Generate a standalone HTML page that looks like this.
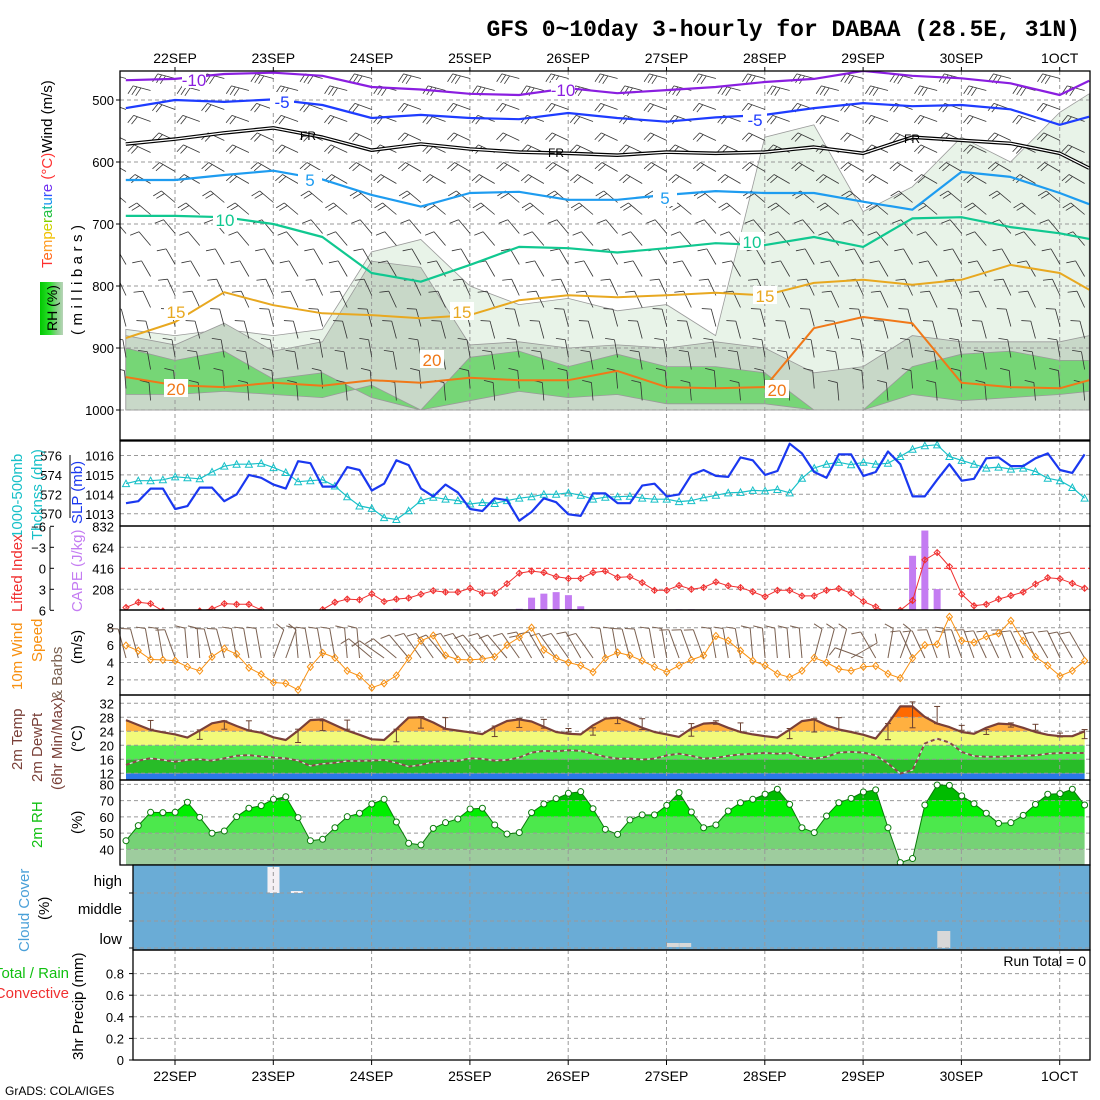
<!DOCTYPE html>
<html><head><meta charset="utf-8"><style>
html,body{margin:0;padding:0;background:#fff;width:1100px;height:1100px;overflow:hidden}
svg{display:block}
text{font-family:"Liberation Sans",sans-serif}
</style></head><body>
<svg id="c" width="1100" height="1100" viewBox="0 0 1100 1100" xmlns="http://www.w3.org/2000/svg">
<defs>
<clipPath id="clipUp"><rect x="120" y="71" width="970" height="369"/></clipPath>
<clipPath id="clipLI"><rect x="120" y="526" width="970" height="84"/></clipPath>
<linearGradient id="rhbox" x1="0" x2="1" y1="0" y2="0"><stop offset="0" stop-color="#00c800"/><stop offset="0.45" stop-color="#30e030"/><stop offset="0.7" stop-color="#7fd07f"/><stop offset="1" stop-color="#b8d4b8"/></linearGradient>
</defs>
</svg>
<script>
// ---------- data ----------
const dayLabels=['22SEP','23SEP','24SEP','25SEP','26SEP','27SEP','28SEP','29SEP','30SEP','1OCT'];
const slp=[1013.55,1013.65,1014.3,1014.3,1013.25,1013.4,1014.35,1014.35,1013.65,1014,1015,1014.85,1014.5,1014.3,1015.7,1015.6,1014.4,1014.4,1015.4,1015.25,1014.2,1014.55,1015.75,1015.5,1014.3,1013.9,1014.5,1014.1,1013.25,1013.15,1013.8,1013.7,1012.65,1013.1,1013.8,1013.6,1012.98,1012.9,1014.05,1014.05,1013.55,1013.55,1014.45,1014.55,1013.9,1014,1015,1015.25,1014.95,1014.9,1015.9,1015.75,1015,1015.2,1016.6,1016.1,1015.15,1014.85,1016.05,1016.05,1014.95,1015.15,1016.2,1015.55,1013.9,1013.9,1014.75,1015.55,1014.7,1014.8,1015.85,1015.9,1015.45,1015.45,1015.85,1016.1,1015.25,1015.1,1016.05];
const thick=[573.1,573.4,573.4,573.5,573.8,573.7,573.6,574.3,574.9,575.1,575.1,575.2,574.75,574.25,573.3,573.4,573.5,572.85,571.75,570.8,570.55,569.6,569.4,570.3,571.35,571.7,571.5,571.35,571,571.15,571.05,571.35,571.6,571.75,572,572,572.15,571.9,571.5,571.7,571.75,571.8,571.6,571.5,571.5,571.25,571.35,571.65,571.9,572.15,572.2,572.4,572.35,572.5,572.15,573.65,574.7,575.1,575.3,575.05,575.3,575.1,575.2,575.9,576.65,577,577.1,575.9,575.5,575.1,574.7,574.8,574.6,574.7,574.35,573.65,573.4,572.7,571.6];
const li=[5.6,4.85,5.05,6.1,7,7,6.1,5.8,5.05,5.15,5.15,5.95,7,7,7,7,5.9,4.85,4.4,4.5,3.65,4.75,4.4,4.25,3.7,3.2,3.4,3.4,2.85,3.55,3.55,2.2,0.7,0.4,0.6,1.2,1.45,1.45,0.6,0.4,1.3,1.2,2.05,3.15,3.15,2.45,3,2.75,1.95,2.5,2.75,3.35,4.05,3.15,3.15,3.95,3.95,3.15,2.9,3.55,4.75,5.5,6.4,6,4.6,-1.2,-2.25,-0.25,3.7,5.35,5.15,4.4,3.9,3.4,2.25,1.35,1.5,2.15,2.85];
const cape=[0,0,0,0,0,0,0,0,5,0,0,0,0,0,0,0,0,0,0,0,0,10,15,10,0,0,0,0,0,0,0,0,15,125,165,180,150,40,0,0,0,0,0,0,0,10,10,0,0,0,0,0,0,0,0,0,0,0,0,0,0,0,0,0,540,790,210,5,0,0,0,0,0,0,0,0,0,0,0];
const wspd=[5.95,5.35,4.35,4.3,4.2,3.5,3.05,4.65,5.6,4.95,3.4,2.65,1.7,1.6,0.85,3.5,5.1,4.55,3.05,2.45,1.1,1.6,2.5,4.5,6.5,7.1,4.8,4.35,4.3,4.4,4.65,6,6.9,8,5.45,4.5,4.0,3.65,2.9,4.5,5.15,4.8,4.2,3.5,2.9,3.65,4.3,4.8,7.05,6.5,5.35,4.2,3.65,2.7,2.3,3.05,4.55,4,3.25,3.05,3.5,3.6,2.7,2.2,4.5,6,6.1,9.25,6.5,6.3,7,7.35,8.8,6.5,4.65,3.65,2.45,3.05,4.2];
const wdir=[345,345,350,350,340,355,355,345,345,350,350,350,20,20,355,350,350,350,355,355,310,305,310,320,325,325,320,325,325,320,325,320,325,330,330,325,325,330,325,350,350,345,345,350,350,340,340,340,350,350,350,355,355,355,355,355,15,15,15,60,290,330,10,20,335,335,340,350,340,340,335,335,340,335,335,330,335,330,330];
const temp=[27.2,25.8,24.4,23.7,23.1,22.2,24.2,26.3,26.95,25.5,24.2,23.6,22.3,21.5,24.2,27.2,27.4,25.8,24.2,23,21.7,21.5,24.6,27.9,28,26.5,24.7,24.2,23.7,23.2,25.3,26.95,27.4,26.8,25.3,23.8,23.3,23.1,25.7,27.6,27.9,26.5,25,23.8,23.1,22.4,24.8,26.2,26.4,25,23.8,23.1,22.6,22.2,24.5,26.9,27.4,25.7,24.5,23.8,23,21.9,26.2,31.1,31.1,28.1,26.2,25.2,23.8,23.3,25,26.2,26,25,23.8,23,22.6,22.6,24];
const dewp=[14.4,15.6,16.3,15.8,15.3,15.8,16,15.6,16.3,17,17.2,16.8,16.5,16.3,15.6,14.1,14.7,15,15.5,15.5,15.6,15.8,15,13.9,14.4,15.3,15.5,15.5,16.3,16.1,15.6,15.8,16.5,17.9,18.4,18.3,18.6,18.4,17.6,16.7,16.2,16.2,15.9,16.2,17.1,17.6,17,16.2,16.4,17,17.4,17.6,17.8,17.6,17.8,16.7,16.2,16.7,17.9,18.1,17.9,17.1,14.8,11.9,12.9,20.5,21.9,20.8,18.1,16.9,16.7,16.7,16.9,17,17.1,17.6,17.8,17.8,17.8];
const barIdx=[2,6,8,10,14,16,18,22,24,26,30,32,34,36,38,40,42,46,48,50,54,56,58,62,64,66,68,70,72,74,76,78];
const tmax=[27.1,24.4,27,27,24.6,27,27.2,24.6,28.2,27.9,25.5,27.7,27.4,24.8,25,27.9,27.6,26.2,27,26.4,24.8,27.6,27.9,26.2,32.4,31.1,25.7,24.5,26.4,26,23.5,24.5];
const tmin=[24.6,21.7,24.6,24.4,20.8,24.2,24.6,21,24.9,24.6,22.5,25.1,24.9,23.8,22.9,26.2,24.5,22.6,26,23.8,21.9,23.8,24.5,21.6,25,26.2,24.3,23.1,25.2,24.3,22.4,21.9];
const rh=[45.3,54.6,62.8,62.6,62.8,69,59.7,49.9,51.3,60.1,65.3,66.9,70.8,72.4,59.5,45.3,46.2,53.3,60.1,62.2,67.9,70.8,56.8,43.7,42.7,52.9,56.4,58.7,64.8,65.3,55,49.4,50.3,62.6,67.9,71.2,74.5,75.5,65,52.3,49.2,58.1,61.2,61.2,67.1,74.9,63,53.3,55,63.6,68.7,70.8,73.9,77,67.7,53.3,50.3,60.5,68.7,71.4,75.3,76.6,53.3,31.8,34.3,67.3,79.6,79.4,72.9,68.1,62.2,56,56.4,60.9,67.7,73.9,74.3,77,67.3];
const cloudGapIdx=[12,13.9,44.5,45.5,66.5];
const cloudGapLevel=['high','highline','lowline','lowline','low'];
// upper-air contours (pressure mb vs time in days from 22SEP00Z)
const ctime=[-0.5,0,0.5,1,1.5,2,2.5,3,3.5,4,4.5,5,5.5,6,6.5,7,7.5,8,8.5,9,9.3];
const cM10=[468,466,458,456,461,479,483,490,492,481,489,484,479,471,466,453,461,465,473,492,469];
const cM5=[513,500,503,499,508,529,524,529,531,521,529,535,528,524,513,505,510,508,515,540,527];
const cFR=[571,563,553,545,560,581,571,579,584,586,589,584,586,584,576,586,560,565,570,586,610];
const cP5=[629,629,621,614,628,653,672,650,648,661,661,653,647,650,650,664,677,616,624,650,668];
const cP10=[687,687,689,700,721,779,793,766,737,739,746,739,731,734,721,737,691,689,705,715,724];
const cP15=[884,858,810,831,844,847,852,847,823,815,818,815,811,815,795,790,798,790,766,779,806];
const cP20=[947,960,963,956,961,952,956,948,952,952,937,963,965,963,868,850,860,956,963,965,952];
const rhLight=[870,880,870,880,870,745,725,800,830,820,840,830,880,560,540,680,640,560,600,520,490];
const rhGray=[880,895,860,905,890,760,770,895,890,900,895,900,890,900,940,930,880,890,890,890,880];
const rhGreenTop=[900,920,905,950,940,980,1000,915,905,930,910,930,930,940,1000,1000,930,910,905,920,920];
const rhGreenBot=[975,975,970,975,980,960,1000,985,970,980,975,990,990,990,1000,1000,975,985,980,975,970];
const upLevels=[475,525,575,625,675,725,775,825,875,925,975];
const upDir=[285,290,295,300,310,320,330,335,345,350,355];
const upSpd=[15,12,11,10,8,7,6,6,6,7,6];

// ---------- scales ----------
const X=i=>126+i*12.29;
const XD=d=>175+d*98.3;
const pY=p=>100+(p-500)*0.62;
const ySLP=p=>494.4-(p-1014)*19.5;
const yTh=t=>494.3-(t-572)*9.7;
const yLI=v=>568.3+v*7;
const yCape=c=>610.3-c*(84/832);
const yW=v=>697.3-v*8.7;
const yT=t=>773.3-(t-12)*3.5;
const yR=r=>849.3-(r-40)*1.623;
const yP=v=>1060-v*108;

const svg=document.getElementById('c');
const NS='http://www.w3.org/2000/svg';
function mk(tag,attrs,name,parent){
  const el=document.createElementNS(NS,tag);
  for(const k in attrs) el.setAttribute(k,attrs[k]);
  
  
  (parent||svg).appendChild(el);
  return el;
}
function txt(x,y,s,name,o){
  o=o||{};
  const a={x:x,y:y,'font-size':o.fs||13,fill:o.fill||'#000','text-anchor':o.anchor||'start'};
  if(o.rot) a.transform='rotate(-90 '+x+' '+y+')';
  if(o.ls) a['letter-spacing']=o.ls;
  if(o.ff) a.style='font-family:'+o.ff;
  if(o.fw) a['font-weight']=o.fw;
  const t=mk('text',a,name,o.parent);
  t.textContent=s;
  return t;
}
function ln(x1,y1,x2,y2,st,w,name,dash,parent){
  const a={x1:x1,y1:y1,x2:x2,y2:y2,stroke:st,'stroke-width':w||1};
  if(dash) a['stroke-dasharray']=dash;
  return mk('line',a,name,parent);
}
function poly(pts,st,w,name,parent,dash){
  const a={points:pts.map(p=>p[0].toFixed(1)+','+p[1].toFixed(1)).join(' '),fill:'none',stroke:st,'stroke-width':w,'stroke-linejoin':'round'};
  if(dash) a['stroke-dasharray']=dash;
  return mk('polyline',a,name,parent);
}
function pathArea(top,bot){
  let d='M'+top.map(p=>p[0].toFixed(1)+','+p[1].toFixed(1)).join('L');
  d+='L'+bot.slice().reverse().map(p=>p[0].toFixed(1)+','+p[1].toFixed(1)).join('L')+'Z';
  return d;
}
const N=slp.length;
const idx=[...Array(N).keys()];

// ---------- title ----------
txt(1080,36,'GFS 0~10day 3-hourly for DABAA (28.5E, 31N)','chart-title',{fs:23,anchor:'end',ff:'"Liberation Mono",monospace',fw:'bold'});
dayLabels.forEach((s,k)=>{
  txt(XD(k),63,s,'top-date-label',{fs:14,anchor:'middle'});
  txt(XD(k),1081,s,'bottom-date-label',{fs:14,anchor:'middle'});
});
txt(5,1095,'GrADS: COLA/IGES','grads-credit',{fs:12});

// ---------- upper air panel ----------
const gUp=mk('g',{'clip-path':'url(#clipUp)'},'upper-air-plot');
const ctX=ctime.map(d=>XD(d));
function areaUp(topArr,botArr,fill,name){
  const top=topArr.map((p,k)=>[ctX[k],pY(p)]);
  const bot=botArr.map((p,k)=>[ctX[k],pY(p)]);
  mk('path',{d:pathArea(top,bot),fill:fill,stroke:'#9a9a9a','stroke-width':0.8},name,gUp);
}
const p1000=ctime.map(()=>1000);
areaUp(rhLight,p1000,'#e8f3e8','rh-shade-light');
areaUp(rhGray,p1000,'#c8d8c8','rh-shade-gray');
areaUp(rhGreenTop,rhGreenBot,'#76d676','rh-shade-green');
[500,600,700,800,900,1000].forEach(p=>{
  ln(120,pY(p),1090,pY(p),'#999',1,'upper-grid-h','4,3',gUp);
  txt(114,pY(p)+5,String(p),'pressure-tick-label',{fs:13,anchor:'end'});
  ln(116,pY(p),120,pY(p),'#000',1,'pressure-tick');
});
dayLabels.forEach((s,k)=>{
  ln(XD(k),71,XD(k),440,'#999',1,'upper-grid-v','4,3',gUp);
  ln(XD(k),67,XD(k),71,'#000',1,'top-date-tick');
});
function barb(x,y,dir,spd,len,col,name,parent,w){
  const r=dir*Math.PI/180;
  const ux=Math.sin(r),uy=-Math.cos(r);
  const ex=x+ux*len,ey=y+uy*len;
  ln(x,y,ex,ey,col,w||1,name,null,parent);
  let n=Math.max(1,Math.round(spd/5));
  for(let k=0;k<Math.min(n,3);k++){
    const bx=ex-ux*k*4,by=ey-uy*k*4;
    const px=Math.cos(r),py=Math.sin(r);
    const fx=bx+(-px)*9+ux*3, fy=by+(-py)*9+uy*3;
    ln(bx,by,fx,fy,col,w||1,name+'-feather',null,parent);
  }
}
for(let i=0;i<N;i+=2){
  upLevels.forEach((p,k)=>{
    const off=(i%4===0)?0:12;
    barb(X(i),pY(p)+off-6,upDir[k],upSpd[k],18,'#333','upper-wind-barb',gUp,0.8);
  });
}
function contour(arr,col,w,name){
  return poly(arr.map((p,k)=>[ctX[k],pY(p)]),col,w,name,gUp);
}
contour(cM10,'#8a1ee0',2.2,'temp-contour-minus10');
contour(cM5,'#1e3cff',2.2,'temp-contour-minus5');
contour(cFR,'#000',3.6,'freezing-level-outer');
contour(cFR,'#fff',1.2,'freezing-level-inner');
contour(cP5,'#1e9cf0',2.2,'temp-contour-5');
contour(cP10,'#10c890',2.2,'temp-contour-10');
contour(cP15,'#e8a820',2,'temp-contour-15');
contour(cP20,'#f07818',2,'temp-contour-20');
function clab(x,y,s,col,name){
  mk('rect',{x:x-12,y:y-10,width:24,height:18,fill:'#fff'},name+'-bg',gUp);
  txt(x,y+6,s,name,{fs:17,fill:col,anchor:'middle',parent:gUp});
}
clab(194,80,'-10','#8a1ee0','contour-label-m10');
clab(563,90,'-10','#8a1ee0','contour-label-m10');
clab(282,102,'-5','#1e3cff','contour-label-m5');
clab(755,120,'-5','#1e3cff','contour-label-m5');
txt(308,140,'FR','freezing-label',{fs:12,anchor:'middle',parent:gUp});
txt(556,157,'FR','freezing-label',{fs:12,anchor:'middle',parent:gUp});
txt(912,143,'FR','freezing-label',{fs:12,anchor:'middle',parent:gUp});
clab(310,180,'5','#1e9cf0','contour-label-5');
clab(665,198,'5','#1e9cf0','contour-label-5');
clab(225,220,'10','#10c890','contour-label-10');
clab(752,242,'10','#10c890','contour-label-10');
clab(176,312,'15','#e8a820','contour-label-15');
clab(462,312,'15','#e8a820','contour-label-15');
clab(765,296,'15','#e8a820','contour-label-15');
clab(176,389,'20','#f07818','contour-label-20');
clab(432,360,'20','#f07818','contour-label-20');
clab(777,390,'20','#f07818','contour-label-20');
mk('rect',{x:120,y:71,width:970,height:369,fill:'none',stroke:'#000','stroke-width':1.3},'upper-air-frame');
const tl=txt(52,268,'','upper-y-title',{fs:15,rot:true});
[['T','#ff3030'],['e','#ff6a20'],['m','#ff9a20'],['p','#f0c000'],['e','#d0d000'],['r','#80d000'],['a','#20c040'],['t','#10c0a0'],['u','#1090f0'],['r','#3050ff'],['e','#7030f0'],[' (°C)','#ff3030'],['Wind (m/s)','#000']].forEach(([s,c])=>{
  const ts=document.createElementNS(NS,'tspan');ts.setAttribute('fill',c);
  
  
  ts.textContent=s;tl.appendChild(ts);
});
txt(82,335,'(millibars)','pressure-axis-title',{fs:15,rot:true,ls:'4.5'});
mk('rect',{x:40,y:282,width:23,height:53,fill:'url(#rhbox)'},'rh-legend-box');
txt(57,331,'RH (%)','rh-legend-label',{fs:14,rot:true});

// ---------- SLP / thickness ----------
const slpTop=441,slpBot=526;
[576,574,572,570].forEach(t=>{ln(120,yTh(t),1090,yTh(t),'#999',1,'slp-grid-h','4,3');txt(62,yTh(t)+5,String(t),'thickness-tick-label',{anchor:'end'});});
[1016,1015,1014,1013].forEach(p=>txt(114,ySLP(p)+5,String(p),'slp-tick-label',{anchor:'end'}));
ln(70,455,70,518,'#000',1,'slp-axis-line');
dayLabels.forEach((s,k)=>ln(XD(k),slpTop,XD(k),slpBot,'#999',1,'slp-grid-v','4,3'));
poly(idx.map(i=>[X(i),yTh(thick[i])]),'#18c0c8',1.2,'thickness-line');
idx.forEach(i=>{const x=X(i),y=yTh(thick[i]);mk('path',{d:`M${x-3.5},${y+3}L${x+3.5},${y+3}L${x},${y-3.5}Z`,fill:'none',stroke:'#18c0c8','stroke-width':1},'thickness-marker');});
poly(idx.map(i=>[X(i),ySLP(slp[i])]),'#1a38f0',2.2,'slp-line');
mk('rect',{x:120,y:slpTop,width:970,height:slpBot-slpTop,fill:'none',stroke:'#000','stroke-width':1.3},'slp-frame');
txt(22,538,'1000-500mb','thickness-title',{fs:15,fill:'#18c0c8',rot:true});
txt(42,540,'Thcknss (dm)','thickness-title-2',{fs:15,fill:'#18c0c8',rot:true});
txt(82,524,'SLP (mb)','slp-title',{fs:15,fill:'#1a38f0',rot:true});

// ---------- CAPE / LI ----------
const cTop=526,cBot=610;
[832,624,416,208].forEach(c=>{txt(114,yCape(c)+5,String(c),'cape-tick-label',{anchor:'end'});});
[-3,3].forEach(v=>ln(120,yLI(v),1090,yLI(v),'#999',1,'cape-grid-h','4,3'));
[-6,-3,0,3,6].forEach(v=>{txt(46,yLI(v)+5,String(v).replace('-','−'),'li-tick-label',{anchor:'end'});ln(50,yLI(v),54,yLI(v),'#000',1,'li-tick');});
ln(50,cTop+1,50,cBot,'#000',1,'li-axis-line');
dayLabels.forEach((s,k)=>ln(XD(k),cTop,XD(k),cBot,'#999',1,'cape-grid-v','4,3'));
ln(120,yLI(0),1090,yLI(0),'#f33',1.2,'li-zero-line','5,3');
idx.forEach(i=>{if(cape[i]>0){mk('rect',{x:X(i)-3.5,y:yCape(cape[i]),width:7,height:cBot-yCape(cape[i]),fill:'#c47cf2'},'cape-bar');}});
const gLI=mk('g',{'clip-path':'url(#clipLI)'},'li-series');
poly(idx.map(i=>[X(i),yLI(li[i])]),'#f03030',1,'lifted-index-line',gLI);
idx.forEach(i=>{const x=X(i),y=yLI(li[i]);mk('path',{d:`M${x-3},${y}L${x},${y-3}L${x+3},${y}L${x},${y+3}ZM${x},${y-3}L${x},${y+3}`,fill:'none',stroke:'#f03030','stroke-width':1},'li-marker',gLI);});
mk('rect',{x:120,y:cTop,width:970,height:cBot-cTop,fill:'none',stroke:'#000','stroke-width':1.3},'cape-frame');
txt(22,612,'Lifted Index','li-title',{fs:15,fill:'#f03030',rot:true});
txt(82,612,'CAPE (J/kg)','cape-title',{fs:15,fill:'#c47cf2',rot:true});

// ---------- 10m wind ----------
const wTop=610,wBot=695;
[8,6,4,2].forEach(v=>{ln(120,yW(v),1090,yW(v),'#999',1,'wind-grid-h','4,3');txt(114,yW(v)+5,String(v),'wind-tick-label',{anchor:'end'});});
dayLabels.forEach((s,k)=>ln(XD(k),wTop,XD(k),wBot,'#999',1,'wind-grid-v','4,3'));
idx.forEach(i=>barb(X(i),658,wdir[i],wspd[i],30,'#7a6050','surface-wind-barb'));
poly(idx.map(i=>[X(i),yW(wspd[i])]),'#f89010',1,'wind-speed-line');
idx.forEach(i=>{const x=X(i),y=yW(wspd[i]);mk('path',{d:`M${x-3},${y}L${x},${y-3.5}L${x+3},${y}L${x},${y+3.5}Z`,fill:'none',stroke:'#f89010','stroke-width':1},'wind-speed-marker');});
mk('rect',{x:120,y:wTop,width:970,height:wBot-wTop,fill:'none',stroke:'#000','stroke-width':1.3},'wind-frame');
txt(22,690,'10m Wind','wind-title',{fs:15,fill:'#f89010',rot:true});
txt(42,662,'Speed','wind-title-speed',{fs:15,fill:'#f89010',rot:true});
txt(62,700,'& Barbs','wind-title-barbs',{fs:15,fill:'#7a6050',rot:true});
txt(82,664,'(m/s)','wind-units',{fs:15,rot:true});

// ---------- temperature ----------
const tTop=695,tBot=780;
const tPts=idx.map(i=>[X(i),yT(temp[i])]);
const clipT=mk('clipPath',{id:'clipT'},'temp-clip');
mk('path',{d:'M'+tPts.map(p=>p[0]+','+p[1]).join('L')+`L${X(N-1)},${tBot}L${X(0)},${tBot}Z`},'temp-clip-shape',clipT);
const gT=mk('g',{'clip-path':'url(#clipT)'},'temp-bands');
const tBands=[[0,12,'#2a78e8'],[12,16,'#28bc28'],[16,20,'#50ea50'],[20,24,'#f2fa7a'],[24,28,'#ffb040'],[28,40,'#ff6a00']];
tBands.forEach(([a,b,c])=>mk('rect',{x:120,y:yT(b),width:970,height:yT(a)-yT(b),fill:c},'temp-band',gT));
[32,28,24,20,16,12].forEach(v=>{ln(120,yT(v),1090,yT(v),'#999',1,'temp-grid-h','4,3');txt(114,yT(v)+5,String(v),'temp-tick-label',{anchor:'end'});});
dayLabels.forEach((s,k)=>ln(XD(k),tTop,XD(k),tBot,'#999',1,'temp-grid-v','4,3'));
poly(idx.map(i=>[X(i),yT(dewp[i])]),'#ddd',1.2,'dewpoint-under');
poly(idx.map(i=>[X(i),yT(dewp[i])]),'#8a4a4a',2,'dewpoint-line',null,'4,3');
barIdx.forEach((i,k)=>{const x=X(i);ln(x,yT(tmax[k]),x,yT(tmin[k]),'#6a4030',1,'minmax-bar');ln(x-3,yT(tmax[k]),x+3,yT(tmax[k]),'#6a4030',1,'minmax-cap');ln(x-3,yT(tmin[k]),x+3,yT(tmin[k]),'#6a4030',1,'minmax-cap');});
poly(tPts,'#7a4038',2.2,'temperature-line');
mk('rect',{x:120,y:tTop,width:970,height:tBot-tTop,fill:'none',stroke:'#000','stroke-width':1.3},'temp-frame');
txt(22,770,'2m Temp','temp-title',{fs:15,fill:'#7a4038',rot:true});
txt(42,782,'2m DewPt','dewpt-title',{fs:15,fill:'#7a4038',rot:true});
txt(62,790,'(6hr Min/Max)','minmax-title',{fs:15,fill:'#7a4038',rot:true});
txt(82,752,'(°C)','temp-units',{fs:15,rot:true});

// ---------- RH ----------
const rTop=780,rBot=865;
const rPts=idx.map(i=>[X(i),yR(rh[i])]);
const clipR=mk('clipPath',{id:'clipR'},'rh-clip');
mk('path',{d:'M'+rPts.map(p=>p[0]+','+p[1]).join('L')+`L${X(N-1)},${rBot}L${X(0)},${rBot}Z`},'rh-clip-shape',clipR);
const gR=mk('g',{'clip-path':'url(#clipR)'},'rh-bands');
const rBands=[[0,40,'#9ecc9e'],[40,50,'#76d276'],[50,60,'#4ce84c'],[60,70,'#00ee00'],[70,100,'#00bb00']];
rBands.forEach(([a,b,c])=>mk('rect',{x:120,y:yR(b),width:970,height:yR(a)-yR(b),fill:c},'rh-band',gR));
[80,70,60,50,40].forEach(v=>{ln(120,yR(v),1090,yR(v),'#999',1,'rh-grid-h','4,3');txt(114,yR(v)+5,String(v),'rh-tick-label',{anchor:'end'});});
dayLabels.forEach((s,k)=>ln(XD(k),rTop,XD(k),rBot,'#999',1,'rh-grid-v','4,3'));
poly(rPts,'#0a7a0a',1,'rh-line');
rPts.forEach(p=>mk('circle',{cx:p[0],cy:p[1],r:3,fill:'#fff',stroke:'#0a7a0a','stroke-width':1},'rh-marker'));
mk('rect',{x:120,y:rTop,width:970,height:rBot-rTop,fill:'none',stroke:'#000','stroke-width':1.3},'rh-frame');
txt(42,848,'2m RH','rh-title',{fs:15,fill:'#10c010',rot:true});
txt(82,834,'(%)','rh-units',{fs:15,rot:true});

// ---------- cloud ----------
const clTop=865,clBot=950;
mk('rect',{x:133,y:clTop,width:957,height:clBot-clTop,fill:'#6aacd6'},'cloud-cover-fill');
cloudGapIdx.forEach((i,k)=>{
  const lv=cloudGapLevel[k];const x=X(i);
  if(lv==='high') mk('rect',{x:x-6,y:867,width:12,height:26,fill:'#f4f0f4'},'cloud-gap-high');
  else if(lv==='highline') mk('rect',{x:x-6,y:891,width:12,height:2,fill:'#f4f0f4'},'cloud-gap-high-thin');
  else if(lv==='lowline') mk('rect',{x:x-6,y:943,width:12,height:4,fill:'#d8d8d8'},'cloud-gap-low-thin');
  else mk('rect',{x:x-6,y:931,width:13,height:17,fill:'#d8d8d8'},'cloud-gap-low');
});
[893,921,948].forEach(y=>{ln(133,y,1090,y,'#999',1,'cloud-grid-h','4,3');ln(129,y,133,y,'#000',1,'cloud-tick');});
dayLabels.forEach((s,k)=>ln(XD(k),clTop,XD(k),clBot,'#999',1,'cloud-grid-v','4,3'));
mk('rect',{x:133,y:clTop,width:957,height:clBot-clTop,fill:'none',stroke:'#000','stroke-width':1.3},'cloud-frame');
txt(122,886,'high','cloud-high-label',{fs:15,anchor:'end'});
txt(122,914,'middle','cloud-middle-label',{fs:15,anchor:'end'});
txt(122,944,'low','cloud-low-label',{fs:15,anchor:'end'});
txt(29,952,'Cloud Cover','cloud-title',{fs:15,fill:'#4aa0d8',rot:true});
txt(49,920,'(%)','cloud-units',{fs:15,rot:true});

// ---------- precip ----------
const prTop=950,prBot=1060;
[0.8,0.6,0.4,0.2].forEach(v=>ln(133,yP(v),1090,yP(v),'#999',1,'precip-grid-h','4,3'));
[0.8,0.6,0.4,0.2,0].forEach(v=>{txt(124,yP(v)+5,v===0?'0':String(v),'precip-tick-label',{anchor:'end'});ln(129,yP(v),133,yP(v),'#000',1,'precip-tick');});
dayLabels.forEach((s,k)=>{ln(XD(k),prTop,XD(k),prBot,'#999',1,'precip-grid-v','4,3');ln(XD(k),prBot,XD(k),prBot+5,'#000',1,'bottom-date-tick');});
mk('rect',{x:133,y:prTop,width:957,height:prBot-prTop,fill:'none',stroke:'#000','stroke-width':1.3},'precip-frame');
txt(1086,966,'Run Total = 0','run-total-label',{fs:14,anchor:'end'});
txt(69,978,'Total / Rain','precip-total-label',{fs:15,fill:'#10c010',anchor:'end'});
txt(69,998,'Convective','precip-convective-label',{fs:15,fill:'#f03030',anchor:'end'});
txt(83,1060,'3hr Precip (mm)','precip-title',{fs:15,rot:true});
</script>
</body></html>
